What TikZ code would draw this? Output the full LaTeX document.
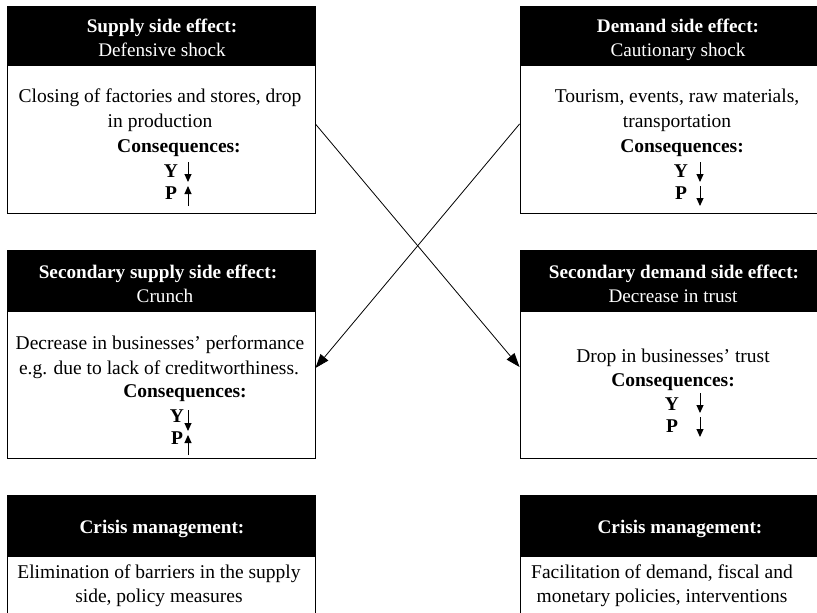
\documentclass[tikz,border=0pt]{standalone}
\usepackage{fontspec}
\setmainfont{Liberation Serif}
\usetikzlibrary{arrows.meta}
\begin{document}
\begin{tikzpicture}[x=1pt,y=-1pt,
  hdr/.style={fill=black, draw=black, minimum width=308pt, inner sep=0pt},
  bodybox/.style={draw=black, line width=0.9pt, fill=white, minimum width=308pt, inner sep=0pt},
  wt/.style={text=white, anchor=base, inner sep=0pt, font=\fontsize{19.2}{22}\selectfont},
  bt/.style={text=black, anchor=base, inner sep=0pt, font=\fontsize{19.5}{22}\selectfont},
  conn/.style={line width=0.8pt, -{Triangle[length=14pt,width=10pt]}},
  updn/.style={line width=1pt, -{Triangle[length=8pt,width=7pt]}}
]
\useasboundingbox (0,0) rectangle (817,613);
\clip (0,0) rectangle (817,613);

% ---------- Panel 1: top left
\node[hdr, minimum height=59pt] (h1) at (161,35.5) {};
\node[bodybox, minimum height=148pt] (b1) at (161,139) {};
\node[wt] (h1a) at (162,32) {\textbf{Supply side effect:}};
\node[wt] (h1b) at (162,56) {Defensive shock};
\node[bt] (b1a) at (160,102) {Closing of factories and stores, drop};
\node[bt] (b1b) at (160,127) {in production};
\node[bt] (b1c) at (179,152) {\textbf{Consequences:}};
\node[bt] (b1y) at (171,177) {\textbf{Y}};
\node[bt] (b1p) at (171,199) {\textbf{P}};
\coordinate (a1yt) at (188,162);
\coordinate (a1yb) at (188,182);
\coordinate (a1pt) at (188,186);
\coordinate (a1pb) at (188,206);
\draw[updn] (a1yt) -- (a1yb);
\draw[updn] (a1pb) -- (a1pt);

% ---------- Panel 2: top right
\node[hdr, minimum height=59pt] (h2) at (674,35.5) {};
\node[bodybox, minimum height=148pt] (b2) at (674,139) {};
\node[wt] (h2a) at (678,32) {\textbf{Demand side effect:}};
\node[wt] (h2b) at (678,56) {Cautionary shock};
\node[bt] (b2a) at (677,102) {Tourism, events, raw materials,};
\node[bt] (b2b) at (677,127) {transportation};
\node[bt] (b2c) at (682,152) {\textbf{Consequences:}};
\node[bt] (b2y) at (681,177) {\textbf{Y}};
\node[bt] (b2p) at (681,199) {\textbf{P}};
\coordinate (a2yt) at (700,162);
\coordinate (a2yb) at (700,182);
\coordinate (a2pt) at (700,186);
\coordinate (a2pb) at (700,206);
\draw[updn] (a2yt) -- (a2yb);
\draw[updn] (a2pt) -- (a2pb);

% ---------- Panel 3: middle left
\node[hdr, minimum height=61pt] (h3) at (161,280.5) {};
\node[bodybox, minimum height=147pt] (b3) at (161,384.5) {};
\node[wt] (h3a) at (158,278) {\textbf{Secondary supply side effect:}};
\node[wt] (h3b) at (165,302) {Crunch};
\node[bt] (b3a) at (160,349) {Decrease in businesses’ performance};
\node[bt] (b3b) at (159,374) {e.g. due to lack of creditworthiness.};
\node[bt] (b3c) at (185,397) {\textbf{Consequences:}};
\node[bt] (b3y) at (177,422) {\textbf{Y}};
\node[bt] (b3p) at (177,444) {\textbf{P}};
\coordinate (a3yt) at (188,410);
\coordinate (a3yb) at (188,431);
\coordinate (a3pt) at (188,435);
\coordinate (a3pb) at (188,455);
\draw[updn] (a3yt) -- (a3yb);
\draw[updn] (a3pb) -- (a3pt);

% ---------- Panel 4: middle right
\node[hdr, minimum height=61pt] (h4) at (674,280.5) {};
\node[bodybox, minimum height=147pt] (b4) at (674,384.5) {};
\node[wt] (h4a) at (674,278) {\textbf{Secondary demand side effect:}};
\node[wt] (h4b) at (673,302) {Decrease in trust};
\node[bt] (b4a) at (673,362) {Drop in businesses’ trust};
\node[bt] (b4c) at (673,386) {\textbf{Consequences:}};
\node[bt] (b4y) at (672,410) {\textbf{Y}};
\node[bt] (b4p) at (672,432) {\textbf{P}};
\coordinate (a4yt) at (700,393);
\coordinate (a4yb) at (700,413);
\coordinate (a4pt) at (700,417);
\coordinate (a4pb) at (700,437);
\draw[updn] (a4yt) -- (a4yb);
\draw[updn] (a4pt) -- (a4pb);

% ---------- Panel 5: bottom left
\node[hdr, minimum height=61pt] (h5) at (161,525.5) {};
\node[bodybox, minimum height=100pt] (b5) at (161,606) {};
\node[wt] (h5a) at (162,533) {\textbf{Crisis management:}};
\node[bt] (b5a) at (159,578) {Elimination of barriers in the supply};
\node[bt] (b5b) at (159,602) {side, policy measures};

% ---------- Panel 6: bottom right
\node[hdr, minimum height=61pt] (h6) at (674,525.5) {};
\node[bodybox, minimum height=100pt] (b6) at (674,606) {};
\node[wt] (h6a) at (680,533) {\textbf{Crisis management:}};
\node[bt] (b6a) at (662,578) {Facilitation of demand, fiscal and};
\node[bt] (b6b) at (662,602) {monetary policies, interventions};

% ---------- Connectors
\draw[conn] ([yshift=15pt]b1.east) -- ([yshift=17.5pt]b4.west);
\draw[conn] ([yshift=15pt]b2.west) -- ([yshift=16.5pt]b3.east);
\end{tikzpicture}
\end{document}
